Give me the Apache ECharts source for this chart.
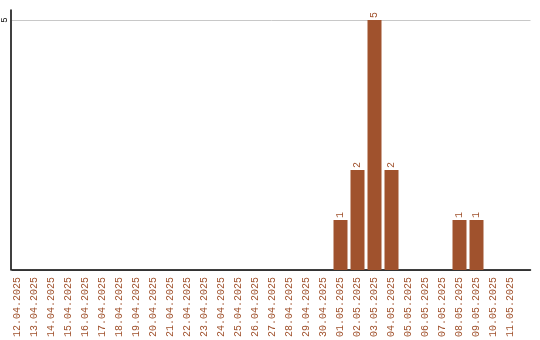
<!DOCTYPE html>
<html><head><meta charset="utf-8">
<script src="https://cdn.jsdelivr.net/npm/echarts@6/dist/echarts.min.js"></script>
<style>html,body{margin:0;padding:0;background:#fff}#c{width:540px;height:340px}</style>
</head><body><div id="c"></div>
<script>
const categories = ["12.04.2025","13.04.2025","14.04.2025","15.04.2025","16.04.2025","17.04.2025","18.04.2025","19.04.2025","20.04.2025","21.04.2025","22.04.2025","23.04.2025","24.04.2025","25.04.2025","26.04.2025","27.04.2025","28.04.2025","29.04.2025","30.04.2025","01.05.2025","02.05.2025","03.05.2025","04.05.2025","05.05.2025","06.05.2025","07.05.2025","08.05.2025","09.05.2025","10.05.2025","11.05.2025"];
const counts = [0,0,0,0,0,0,0,0,0,0,0,0,0,0,0,0,0,0,0,1,2,5,2,0,0,0,1,1,0,0];
const yTicks = [5];

const chart = echarts.init(document.getElementById('c'), null, {renderer:'canvas'});
const mono = 'Liberation Mono';
const brown = '#a0522d';
chart.setOption({
  animation:false,
  grid:[
    {left:9, top:10, width:510, bottom:70},
    {left:10.5, top:20, right:9.5, bottom:70}
  ],
  xAxis:[
    {type:'category', data:categories, gridIndex:0,
      axisLine:{show:false}, axisTick:{show:false},
      axisLabel:{rotate:90, interval:0, color:brown, fontFamily:mono, fontSize:10, margin:7}
    },
    {type:'value', gridIndex:1, min:0, max:1,
      axisLine:{show:true, lineStyle:{color:'#000', width:1.5}},
      axisTick:{show:false}, axisLabel:{show:false}, splitLine:{show:false}
    }
  ],
  yAxis:[
    {type:'value', gridIndex:0, min:0, max:5.2, offset:-1.5,
      axisLine:{show:true, lineStyle:{color:'#000', width:1.5}},
      axisTick:{show:false}, axisLabel:{show:false}, splitLine:{show:false}
    },
    {type:'value', gridIndex:1, min:0, max:5, interval:5,
      axisLine:{show:false},
      axisTick:{show:false},
      splitLine:{show:true, lineStyle:{color:'#c8c8c8', width:1}},
      axisLabel:{rotate:90, color:'#000', fontFamily:mono, fontSize:9, margin:3,
        formatter:v=> yTicks.includes(v) ? String(v) : ''}
    }
  ],
  series:[{type:'bar', xAxisIndex:0, yAxisIndex:0, data:counts, barWidth:14, z:3,
    itemStyle:{color:brown},
    label:{show:true, position:'top', rotate:90, align:'left', verticalAlign:'middle', distance:2,
      color:brown, fontFamily:mono, fontSize:10,
      formatter:p=> p.value ? String(p.value) : ''}
  }]
});
</script></body></html>
